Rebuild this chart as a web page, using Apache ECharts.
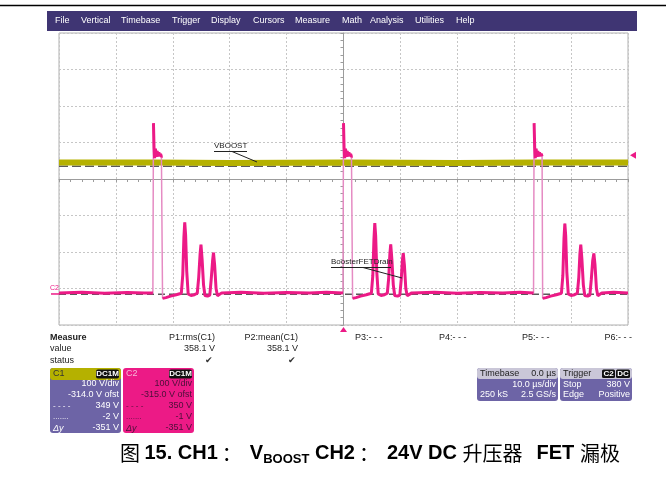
<!DOCTYPE html>
<html>
<head>
<meta charset="utf-8">
<script src="https://cdn.jsdelivr.net/npm/echarts@6/dist/echarts.min.js"></script>
<style>
html, body { margin: 0; padding: 0; background: #fff; }
#chart { width: 666px; height: 479px; }
</style>
</head>
<body>
<div id="chart"></div>
<script>
// 示波器设置
var voltsPerDiv = 100
var c1Offset = 314 // C1 ofst
var c2Offset = 315 // C2 ofst

// C1: VBOOST (µs, V)
var c1Time = [-50, -33.4, -33.2, -20, 0, 0.2, 20, 33.5, 33.7, 50]
var c1Volts = [359, 359, 361, 358, 359, 361, 358, 359, 361, 359]

// C2: BoosterFETDrain (µs, V)
var c2Time = [
  -50, -46, -42, -38, -35, -33.5,
  -33.4, -33.3, -33.2, -33.05, -32.9, -32.75, -32.6, -32.45, -32.3, -32.15, -32.0, -31.9,
  -31.8, -31.6, -31.2, -30.4, -29.4, -28.5, -28.25, -28.05, -27.9, -27.75, -27.55, -27.3,
  -26.8, -26.2, -25.7, -25.45, -25.2, -25.05, -24.85, -24.6, -24.35, -23.9, -23.5,
  -23.25, -23.0, -22.85, -22.65, -22.4, -22.15, -21.4, -18, -14, -10, -6, -3, -0.1,
  0, 0.1, 0.2, 0.35, 0.5, 0.65, 0.8, 0.95, 1.1, 1.25, 1.4, 1.5,
  1.6, 1.8, 2.2, 3.0, 4.0, 4.9, 5.15, 5.35, 5.5, 5.65, 5.85, 6.1,
  6.6, 7.2, 7.7, 7.95, 8.15, 8.3, 8.5, 8.75, 9.0, 9.5,
  9.9, 10.15, 10.35, 10.5, 10.7, 10.95, 11.2, 12, 16, 20, 24, 28, 31, 33.4,
  33.5, 33.6, 33.7, 33.85, 34.0, 34.15, 34.3, 34.45, 34.6, 34.75, 34.9,
  35.0, 35.2, 35.6, 36.4, 37.4, 38.3, 38.55, 38.75, 38.9, 39.05, 39.25, 39.5,
  40.0, 40.6, 41.1, 41.35, 41.55, 41.7, 41.9, 42.15, 42.4, 42.9, 43.3,
  43.55, 43.8, 44.0, 44.2, 44.45, 44.7, 45.4, 47.5, 50
]
var c2Volts = [
  3, 5, 2, 4, 3, 3,
  468, 402, 372, 398, 376, 392, 377, 388, 378, 384, 376, 378,
  -12, -16, -10, -6, -2, 2, 52, 155, 196, 162, 62, 0,
  -4, -2, 2, 45, 110, 135, 95, 25, -4, -6, -3,
  40, 92, 113, 80, 15, -5, 3, 5, 2, 4, 3, 5, 3,
  468, 402, 372, 398, 376, 392, 377, 388, 378, 384, 376, 378,
  -12, -16, -10, -6, -2, 2, 50, 150, 194, 160, 60, 0,
  -4, -2, 2, 45, 110, 136, 95, 25, -4, -6,
  -3, 40, 92, 112, 80, 15, -5, 3, 5, 2, 4, 3, 5, 3,
  468, 402, 372, 398, 376, 392, 377, 388, 378, 384, 377,
  -12, -16, -10, -6, -2, 2, 50, 152, 193, 160, 60, 0,
  -4, -2, 2, 45, 110, 135, 95, 25, -4, -6, -3,
  40, 92, 111, 80, 15, -5, 3, 5, 3
]

// 光标 (C1 刻度)
var cursorVolts = [349, -2]
var trigLevel = 380

var menuItems = ['File', 'Vertical', 'Timebase', 'Trigger', 'Display', 'Cursors', 'Measure', 'Math', 'Analysis', 'Utilities', 'Help']
var menuX = [55, 81, 121, 172, 211, 253, 295, 342, 370, 415, 456]

function toDiv (volts, offset) {
  return (volts - offset) / voltsPerDiv
}

var FONT = '"Liberation Sans", Arial, sans-serif'

function txt (x, y, text, opt) {
  opt = opt || {}
  return {
    type: 'text', x: x, y: y, z: 50,
    style: {
      text: text,
      fill: opt.fill || '#222',
      fontSize: opt.size || 9,
      fontFamily: FONT,
      fontWeight: opt.bold ? 'bold' : 'normal',
      fontStyle: opt.italic ? 'italic' : 'normal',
      align: opt.align || 'left',
      textAlign: opt.align || 'left',
      verticalAlign: 'middle',
      textVerticalAlign: 'middle'
    }
  }
}
function box (x, y, w, h, fill, r) {
  return { type: 'rect', z: 40, shape: { x: x, y: y, width: w, height: h, r: r || 0 }, style: { fill: fill } }
}
function line (x1, y1, x2, y2, color, w) {
  return { type: 'line', z: 50, shape: { x1: x1, y1: y1, x2: x2, y2: y2 }, style: { stroke: color, lineWidth: w || 1 } }
}

var g = []
// 外框
g.push(line(0, 5.5, 666, 5.5, '#000', 1.5))
// 菜单栏
g.push(box(47, 11, 590, 20, '#3f3573'))
menuItems.forEach(function (m, i) {
  g.push(txt(menuX[i], 20.5, m, { fill: '#fff' }))
})

// 波形标注
g.push(txt(214, 146, 'VBOOST', { size: 8 }))
g.push(line(214, 151.5, 247, 151.5, '#222', 1))
g.push(line(232, 151.5, 257, 162, '#222', 1))
g.push(txt(331, 262, 'BoosterFETDrain', { size: 8 }))
g.push(line(331, 267.5, 391, 267.5, '#222', 1))
g.push(line(363, 267.5, 402, 278, '#222', 1))

// 测量表
g.push(txt(50, 338, 'Measure', { bold: true }))
g.push(txt(50, 349, 'value'))
g.push(txt(50, 361, 'status'))
g.push(txt(215, 338, 'P1:rms(C1)', { align: 'right' }))
g.push(txt(215, 349, '358.1 V', { align: 'right' }))
g.push(txt(213, 361, '✔', { align: 'right', fill: '#333' }))
g.push(txt(298, 338, 'P2:mean(C1)', { align: 'right' }))
g.push(txt(298, 349, '358.1 V', { align: 'right' }))
g.push(txt(296, 361, '✔', { align: 'right', fill: '#333' }))
g.push(txt(355, 338, 'P3:- - -'))
g.push(txt(439, 338, 'P4:- - -'))
g.push(txt(522, 338, 'P5:- - -'))
g.push(txt(632, 338, 'P6:- - -', { align: 'right' }))

// C1 框
g.push(box(50, 368, 71, 65, '#6d64a6', 3))
g.push(box(50, 368, 71, 12, '#b5b100', 3))
g.push(txt(53, 374, 'C1', { fill: '#333' }))
g.push(box(96, 369.5, 23, 9, '#111', 2))
g.push(txt(107.5, 374, 'DC1M', { fill: '#fff', size: 8, bold: true, align: 'center' }))
var c1Rows = ['100 V/div', '-314.0 V ofst', '349 V', '-2 V', '-351 V']
c1Rows.forEach(function (r, i) {
  g.push(txt(119, 384 + i * 11, r, { fill: '#fff', align: 'right' }))
})
g.push(txt(53, 406, '- - - -', { fill: '#fff', size: 8 }))
g.push(txt(53, 417, '.......', { fill: '#fff', size: 8 }))
g.push(txt(53, 428, 'Δy', { fill: '#fff', italic: true }))

// C2 框
g.push(box(123, 368, 71, 65, '#ec1a86', 3))
g.push(txt(126, 374, 'C2', { fill: '#f6b8d8' }))
g.push(box(169, 369.5, 23, 9, '#111', 2))
g.push(txt(180.5, 374, 'DC1M', { fill: '#fff', size: 8, bold: true, align: 'center' }))
var c2Rows = ['100 V/div', '-315.0 V ofst', '350 V', '-1 V', '-351 V']
c2Rows.forEach(function (r, i) {
  g.push(txt(192, 384 + i * 11, r, { fill: '#4a1038', align: 'right' }))
})
g.push(txt(126, 406, '- - - -', { fill: '#4a1038', size: 8 }))
g.push(txt(126, 417, '.......', { fill: '#4a1038', size: 8 }))
g.push(txt(126, 428, 'Δy', { fill: '#4a1038', italic: true }))

// Timebase 框
g.push(box(477, 368, 81, 33, '#6d64a6', 3))
g.push(box(477, 368, 81, 11, '#cac7d8', 3))
g.push(txt(480, 374, 'Timebase', { fill: '#222' }))
g.push(txt(556, 374, '0.0 µs', { fill: '#222', align: 'right' }))
g.push(txt(556, 385, '10.0 µs/div', { fill: '#fff', align: 'right' }))
g.push(txt(480, 395, '250 kS', { fill: '#fff' }))
g.push(txt(556, 395, '2.5 GS/s', { fill: '#fff', align: 'right' }))

// Trigger 框
g.push(box(560, 368, 72, 33, '#6d64a6', 3))
g.push(box(560, 368, 72, 11, '#cac7d8', 3))
g.push(txt(563, 374, 'Trigger', { fill: '#222' }))
g.push(box(602, 369.5, 13, 8.5, '#111', 1.5))
g.push(txt(608.5, 374, 'C2', { fill: '#fff', size: 8, bold: true, align: 'center' }))
g.push(box(616, 369.5, 14, 8.5, '#111', 1.5))
g.push(txt(623, 374, 'DC', { fill: '#fff', size: 8, bold: true, align: 'center' }))
g.push(txt(563, 385, 'Stop', { fill: '#fff' }))
g.push(txt(630, 385, trigLevel + ' V', { fill: '#fff', align: 'right' }))
g.push(txt(563, 395, 'Edge', { fill: '#fff' }))
g.push(txt(630, 395, 'Positive', { fill: '#fff', align: 'right' }))

// 图题
var cjk = '"Noto Sans CJK SC", sans-serif'
g.push({
  type: 'text', x: 120, y: 453, z: 50,
  style: {
    text: '{c|图 }{b|15. CH1}{k|：}{b|V}{s|BOOST}{b| CH2}{k|：}{b|24V DC }{w|升压器}{b|FET }{c|漏极}',
    verticalAlign: 'middle',
    textVerticalAlign: 'middle',
    rich: {
      b: { fontSize: 20, fontWeight: 'bold', fontFamily: FONT, fill: '#000', color: '#000' },
      c: { fontSize: 20, fontFamily: cjk, fill: '#000', color: '#000' },
      k: { fontSize: 20, fontFamily: cjk, fill: '#000', color: '#000', padding: [0, 8, 0, 4] },
      w: { fontSize: 20, fontFamily: cjk, fill: '#000', color: '#000', padding: [0, 14, 0, 0] },
      s: { fontSize: 13, fontWeight: 'bold', fontFamily: FONT, fill: '#000', color: '#000', padding: [13, 0, 0, 0] }
    }
  }
})

var chart = echarts.init(document.getElementById('chart'), null, { renderer: 'canvas' })

var c1Data = c1Time.map(function (t, i) { return [t, toDiv(c1Volts[i], c1Offset)] })
var c2Data = c2Time.map(function (t, i) { return [t, toDiv(c2Volts[i], c2Offset)] })
// 快速跳变沿单独用浅色画，主线在跳变处断开
var c2Main = []
c2Data.forEach(function (p, i) {
  if (i > 0 && Math.abs(c2Volts[i] - c2Volts[i - 1]) > 200) c2Main.push([p[0], '-'])
  c2Main.push(p)
})
var cursorSeries = cursorVolts.map(function (v, i) {
  return {
    type: 'line',
    z: 1,
    silent: true,
    showSymbol: false,
    data: [[-50, toDiv(v, c1Offset)], [50, toDiv(v, c1Offset)]],
    lineStyle: { color: '#5a5a5a', width: 1.5, type: i === 0 ? [9, 4] : [7, 4] }
  }
})

var axisGray = '#9c9c9c'
var option = {
  animation: false,
  grid: { left: 59, top: 33, width: 569, height: 292, show: true, borderColor: '#b0b0b0', borderWidth: 1, backgroundColor: '#fff' },
  xAxis: {
    type: 'value', min: -50, max: 50, interval: 10,
    axisLine: { onZero: true, lineStyle: { color: axisGray } },
    axisTick: { show: true, length: 3, lineStyle: { color: axisGray } },
    minorTick: { show: true, splitNumber: 5, length: 3, lineStyle: { color: axisGray } },
    axisLabel: { show: false },
    splitLine: { show: true, lineStyle: { color: '#c6c6c6', type: [2, 2] } }
  },
  yAxis: {
    type: 'value', min: -4, max: 4, interval: 1,
    axisLine: { onZero: true, lineStyle: { color: axisGray } },
    axisTick: { show: true, length: 3, lineStyle: { color: axisGray } },
    minorTick: { show: true, splitNumber: 5, length: 3, lineStyle: { color: axisGray } },
    axisLabel: { show: false },
    splitLine: { show: true, lineStyle: { color: '#c6c6c6', type: [2, 2] } }
  },
  series: cursorSeries.concat([
    {
      name: 'VBOOST', type: 'line', z: 3, showSymbol: false, silent: true,
      data: c1Data, lineStyle: { color: '#b5b100', width: 6 }
    },
    {
      name: 'edges', type: 'line', z: 4, showSymbol: false, silent: true,
      data: c2Data, lineStyle: { color: '#e58bc3', width: 1.5 }
    },
    {
      name: 'BoosterFETDrain', type: 'line', z: 5, showSymbol: false, silent: true,
      connectNulls: false,
      data: c2Main, lineStyle: { color: '#ec1a86', width: 3 }
    }
  ]),
  graphic: { elements: g }
}
chart.setOption(option)

// 触发/地线标记 (由坐标换算位置)
var trigPt = chart.convertToPixel({ gridIndex: 0 }, [50, toDiv(trigLevel, c2Offset)])
var gndPt = chart.convertToPixel({ gridIndex: 0 }, [-50, toDiv(0, c2Offset)])
var t0Pt = chart.convertToPixel({ gridIndex: 0 }, [0, -4])
g.push({ type: 'polygon', z: 60, shape: { points: [[trigPt[0] + 2, trigPt[1]], [trigPt[0] + 8, trigPt[1] - 3.5], [trigPt[0] + 8, trigPt[1] + 3.5]] }, style: { fill: '#ec1a86' } })
g.push({ type: 'polygon', z: 60, shape: { points: [[t0Pt[0], t0Pt[1] + 2], [t0Pt[0] - 3.5, t0Pt[1] + 7], [t0Pt[0] + 3.5, t0Pt[1] + 7]] }, style: { fill: '#ec1a86' } })
g.push(line(gndPt[0] - 8, gndPt[1], gndPt[0], gndPt[1], '#ec1a86', 1.5))
g.push(txt(gndPt[0] - 9, gndPt[1] - 6, 'C2', { fill: '#ec1a86', size: 7 }))
chart.setOption({ graphic: { elements: g } })
</script>
</body>
</html>
